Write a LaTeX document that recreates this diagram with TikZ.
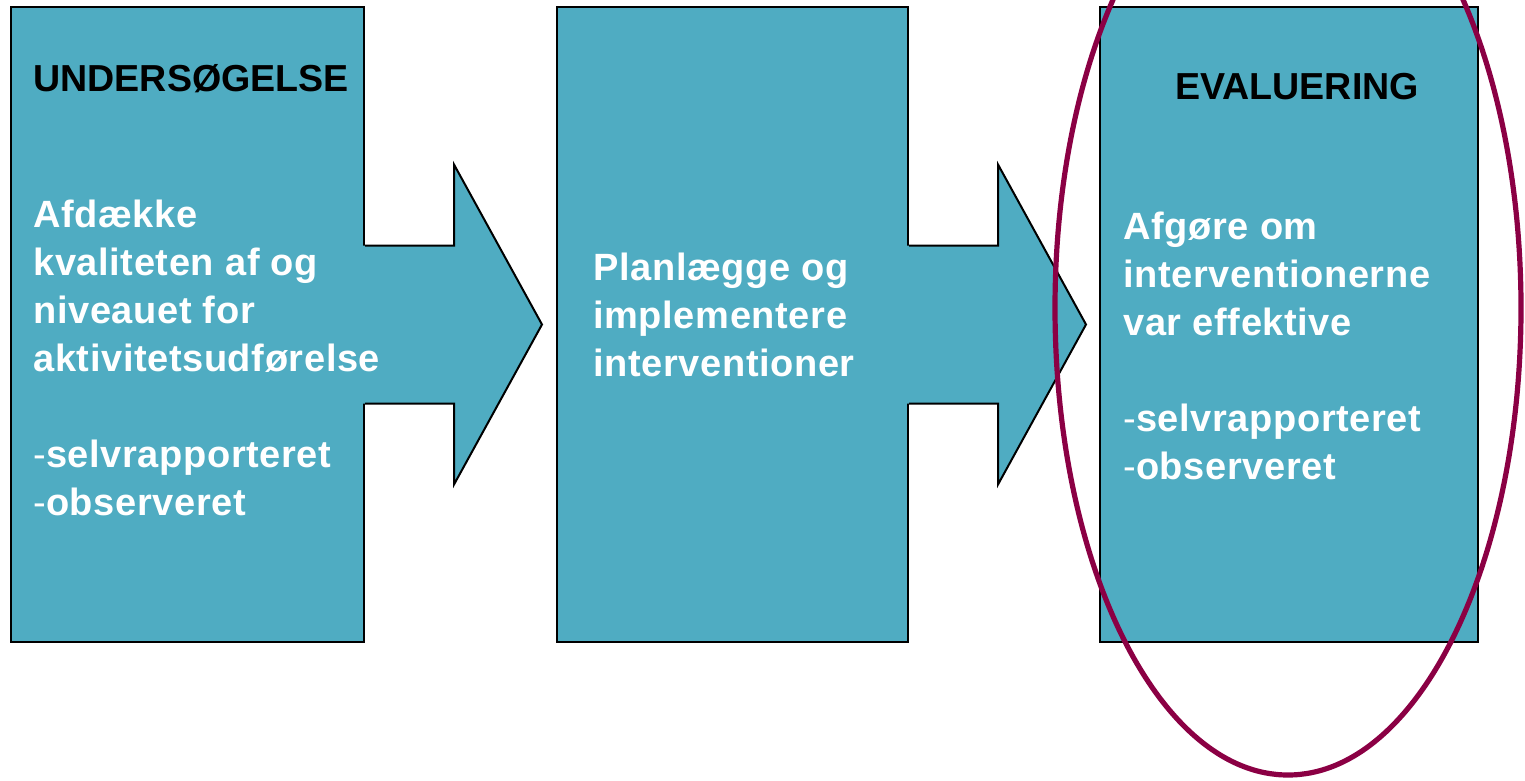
\documentclass[tikz,border=0pt]{standalone}
\usepackage{fontspec}
\setmainfont{Liberation Sans}
\usetikzlibrary{calc}

\definecolor{stageteal}{RGB}{79,172,194}
\definecolor{ringred}{RGB}{139,0,68}
\newcommand{\lightdash}{{\mdseries -}}

\begin{document}
\begin{tikzpicture}[x=0.5pt,y=-0.5pt]
		\tikzstyle{every node}+=[inner sep=0pt]
		\tikzstyle{stagebox}=[draw=black, fill=stageteal, line width=1pt, minimum height=317.5pt]
		\tikzstyle{headtext}=[font=\fontsize{18.8}{24}\selectfont\bfseries, text=black]
		\tikzstyle{bodytext}=[font=\fontsize{19}{24}\selectfont\bfseries\addfontfeatures{LetterSpace=1.6}, text=white, align=left, anchor=north west]
		\clip (0,0) rectangle (1525,781);
		% the three stages
		\node [stagebox, minimum width=176.5pt] (unders) at (187.5,324.5) {};
		\node [stagebox, minimum width=175.5pt] (plan) at (732.5,324.5) {};
		\node [stagebox, minimum width=189pt] (eval) at (1289,324.5) {};
		% block arrows between the stages
		\foreach \src in {unders,plan} {
			\fill [stageteal] ($(\src.east)+(-2,-79)$) -- ++(91,0) -- ++(0,-81) -- ++(88,160) -- ++(-88,160) -- ++(0,-81) -- ++(-91,0) -- cycle;
			\draw [black, line width=1pt] ($(\src.east)+(0,-79)$) -- ++(89,0) -- ++(0,-81) -- ++(88,160) -- ++(-88,160) -- ++(0,-81) -- ++(-89,0);
		}
		% texts
		\node [headtext, anchor=base west] (unders-head) at (33,91) {UNDERSØGELSE};
		\node [bodytext] (unders-body) at (33,200) {Afdække\\kvaliteten af og\\niveauet for\\aktivitetsudførelse\\[24pt]\lightdash selvrapporteret\\\lightdash observeret};
		\node [bodytext] (plan-body) at (593,253) {Planlægge og\\implementere\\interventioner};
		\node [headtext, anchor=base] (eval-head) at (1297,99) {EVALUERING};
		\node [bodytext] (eval-body) at (1123,212) {Afgøre om\\interventionerne\\var effektive\\[24pt]\lightdash selvrapporteret\\\lightdash observeret};
		% ring round the last stage
		\draw [ringred, line width=2.6pt] (1288,308) ellipse [x radius=233, y radius=467];
\end{tikzpicture}
\end{document}
